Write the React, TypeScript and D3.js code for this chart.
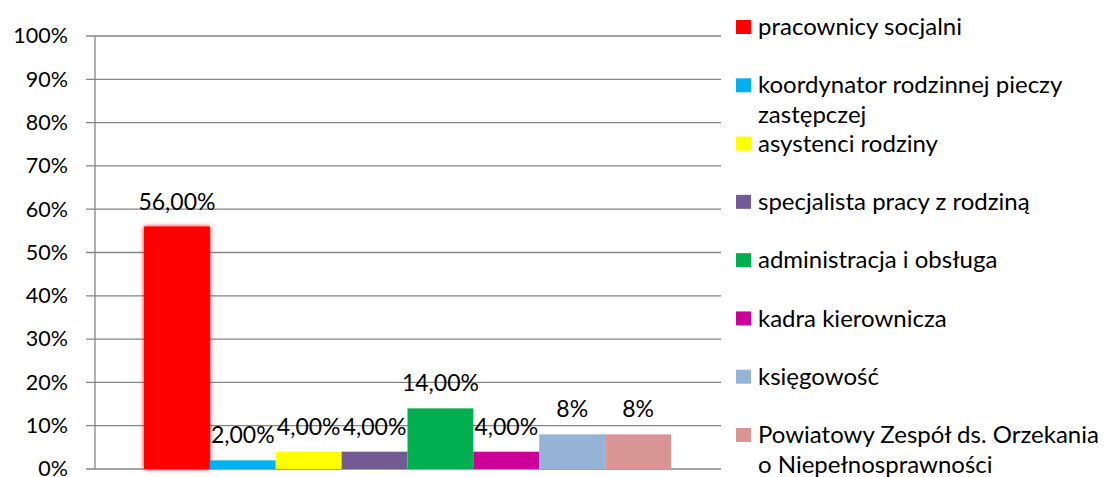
import React from "react";
import * as d3 from "d3";

const series = [
  "pracownicy socjalni",
  "koordynator rodzinnej pieczy zastępczej",
  "asystenci rodziny",
  "specjalista pracy z rodziną",
  "administracja i obsługa",
  "kadra kierownicza",
  "księgowość",
  "Powiatowy Zespół ds. Orzekania o Niepełnosprawności",
];
const legendLines = [
  ["pracownicy socjalni"],
  ["koordynator rodzinnej pieczy", "zastępczej"],
  ["asystenci rodziny"],
  ["specjalista pracy z rodziną"],
  ["administracja i obsługa"],
  ["kadra kierownicza"],
  ["księgowość"],
  ["Powiatowy Zespół ds. Orzekania", "o Niepełnosprawności"],
];
const values = [0.56, 0.02, 0.04, 0.04, 0.14, 0.04, 0.08, 0.08];
const valueLabels = ["56,00%", "2,00%", "4,00%", "4,00%", "14,00%", "4,00%", "8%", "8%"];
const colors = ["#FF0000", "#00B0F0", "#FFFF00", "#735A93", "#00B050", "#CC0099", "#95B3D7", "#D99594"];
const yTicks = [0, 0.1, 0.2, 0.3, 0.4, 0.5, 0.6, 0.7, 0.8, 0.9, 1];

const W = 1110, H = 477;
const plotL = 95, plotR = 721, plotT = 36, plotB = 469;
const barsL = 144, barsR = 671;
const FONT = "Lato, 'Open Sans', sans-serif";

export default function App() {
  const y = d3.scaleLinear().domain([0, 1]).range([plotB, plotT]);
  const x = d3.scaleBand<string>().domain(series).range([barsL, barsR]).padding(0);
  const fmt = (v: number) => `${Math.round(v * 100)}%`;
  const legendY = d3.scaleLinear().domain([0, 7]).range([27, 435]);

  return (
    <div style={{ position: "absolute", left: 0, top: 0 }}>
      <svg width={W} height={H} style={{ display: "block", background: "#fff" }} fontFamily={FONT}>
        <defs>
          <filter id="glow" x="-20%" y="-5%" width="140%" height="110%">
            <feGaussianBlur in="SourceGraphic" stdDeviation="2" result="b" />
            <feMerge>
              <feMergeNode in="b" />
              <feMergeNode in="SourceGraphic" />
            </feMerge>
          </filter>
        </defs>
        {yTicks.map((t) => (
          <g key={t}>
            <line x1={86} x2={plotR} y1={y(t)} y2={y(t)} stroke="#868686" strokeWidth={1.3} />
            <text x={68} y={y(t)} dy="0.34em" textAnchor="end" fontSize={21.5} fill="#000">
              {fmt(t)}
            </text>
          </g>
        ))}
        <line x1={plotL} x2={plotL} y1={plotT} y2={plotB} stroke="#868686" strokeWidth={1.3} />
        {series.map((s, i) => (
          <rect
            key={s}
            x={x(s)}
            y={y(values[i])}
            width={x.bandwidth()}
            height={plotB - y(values[i])}
            fill={colors[i]}
            filter={i === 0 ? "url(#glow)" : undefined}
          />
        ))}
        {series.map((s, i) => (
          <text
            key={"l" + s}
            x={(x(s) as number) + x.bandwidth() / 2}
            y={y(values[i]) - 17}
            textAnchor="middle"
            fontSize={23}
            fill="#000"
          >
            {valueLabels[i]}
          </text>
        ))}
        {legendLines.map((lines, i) => (
          <g key={"lg" + i} transform={`translate(736, ${legendY(i)})`}>
            <rect x={0} y={-7} width={15} height={14} fill={colors[i]} />
            {lines.map((ln, j) => (
              <text key={j} x={22} y={j * 30} dy="0.34em" fontSize={24} fill="#000">
                {ln}
              </text>
            ))}
          </g>
        ))}
      </svg>
    </div>
  );
}
